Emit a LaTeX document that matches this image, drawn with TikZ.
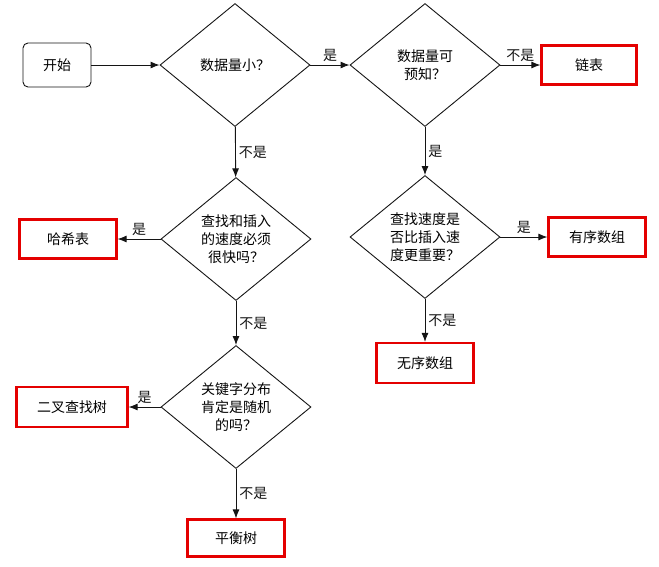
\documentclass[tikz,border=0pt]{standalone}
\usepackage{fontspec}
\newfontfamily\cjk{Noto Sans CJK SC}
\usetikzlibrary{arrows.meta,shapes.geometric}
\definecolor{ink}{RGB}{20,20,20}
\definecolor{leafred}{RGB}{228,0,0}
\newcommand\flowfont{\cjk\fontsize{14}{18}\selectfont}
\tikzset{dec/.style={diamond,draw=ink,line width=.9pt,inner sep=0pt,minimum width=150pt,minimum height=123pt,align=center,font=\flowfont},
  leaf/.style={draw=leafred,line width=2.2pt,minimum width=97pt,minimum height=39pt,inner sep=2pt,font=\flowfont},
  startbox/.style={draw=ink,rounded corners=5pt,line width=.9pt,minimum width=68pt,minimum height=44pt,font=\flowfont},
  flow/.style={-{Latex[length=9pt,width=7pt]},line width=.9pt,ink},
  labeltext/.style={font=\flowfont,text=ink,inner sep=3pt}}

\begin{document}
\begin{tikzpicture}[x=1pt,y=-1pt]
\useasboundingbox (0,0) rectangle (659,566);
\node[startbox] (start) at (57,65) {开始};
\node[dec] (small) at (235,65) {数据量小？};
\node[dec] (known) at (425,65) {数据量可\\预知？};
\node[leaf,minimum width=95pt] (list) at (589,65) {链表};
\node[dec] (fast) at (236,239) {查找和插入\\的速度必须\\很快吗？};
\node[leaf] (hash) at (68,239) {哈希表};
\node[dec] (prior) at (425,237) {查找速度是\\否比插入速\\度更重要？};
\node[leaf] (sorted) at (597,237) {有序数组};
\node[leaf,minimum height=40pt] (unsorted) at (425,363) {无序数组};
\node[dec] (random) at (236,407) {关键字分布\\肯定是随机\\的吗？};
\node[leaf,minimum width=111pt,minimum height=40pt] (bst) at (72,407) {二叉查找树};
\node[leaf,minimum height=37pt] (balanced) at (236,538) {平衡树};
\draw[flow] (start) -- (small);
\draw[flow] (small) -- node[labeltext,above] {是} (known);
\draw[flow] (known) -- node[labeltext,above] {不是} (list);
\draw[flow] (small) -- node[labeltext,right] {不是} (fast);
\draw[flow] (known) -- node[labeltext,right] {是} (prior);
\draw[flow] (fast) -- node[labeltext,above] {是} (hash);
\draw[flow] (fast) -- node[labeltext,right] {不是} (random);
\draw[flow] (prior) -- node[labeltext,above] {是} (sorted);
\draw[flow] (prior) -- node[labeltext,right] {不是} (unsorted);
\draw[flow] (random) -- node[labeltext,above] {是} (bst);
\draw[flow] (random) -- node[labeltext,right] {不是} (balanced);
\end{tikzpicture}
\end{document}
